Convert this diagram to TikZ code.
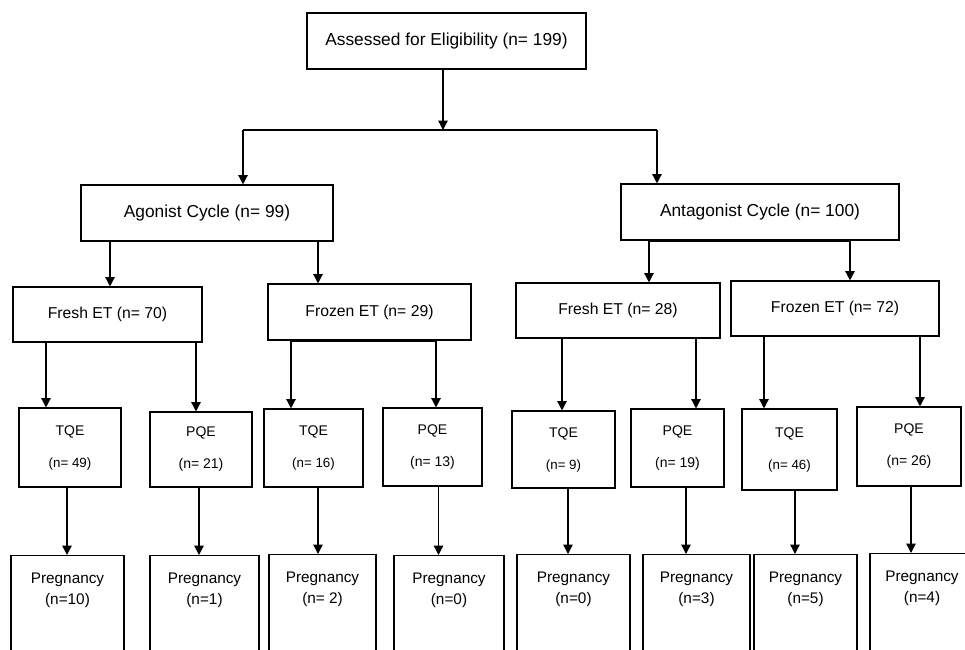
\documentclass[tikz,border=0pt]{standalone}
\usepackage{fontspec}
\setmainfont{Liberation Sans}
\usetikzlibrary{arrows.meta}
\newcommand{\pxu}{0.75pt}
\tikzset{
  box/.style={draw, line width=0.8pt, inner sep=0pt, align=center},
  cyclebox/.style={box, minimum height=56*\pxu, font=\fontsize{13}{16}\selectfont},
  etbox/.style={box, minimum height=55*\pxu, font=\fontsize{11.8}{14}\selectfont},
  qebox/.style={box, font=\fontsize{10.5}{24}\selectfont},
  pregtext/.style={anchor=north, yshift=-17.5*\pxu, inner sep=0pt, align=center, font=\fontsize{11.5}{15.75}\selectfont},
  pregbox/.style={draw, line width=0.8pt, anchor=north, minimum height=117*\pxu, label={[pregtext]north:#1}},
  arr/.style={line width=1pt, -{Triangle[width=7pt,length=7pt]}},
  bar/.style={line width=1.6pt}
}
\begin{document}
\begin{tikzpicture}[x=0.75pt, y=-0.75pt]
  \useasboundingbox (0,0) rectangle (965,650);
  \clip (0,0) rectangle (965,650);

  % Top box
  \node (top)[cyclebox, minimum width=279*\pxu] at (446.5,41) {Assessed for Eligibility (n= 199)};

  % Cycles
  \node (ago)[cyclebox, minimum width=252*\pxu] at (207,213) {Agonist Cycle (n= 99)};
  \node (anta)[cyclebox, minimum width=278*\pxu] at (760,212) {Antagonist Cycle (n= 100)};

  % Embryo transfer
  \node (f70)[etbox, minimum width=189*\pxu] at (107.5,314.5) {Fresh ET (n= 70)};
  \node (z29)[etbox, minimum width=203*\pxu, minimum height=56*\pxu] at (369.5,312) {Frozen ET (n= 29)};
  \node (f28)[etbox, minimum width=204*\pxu] at (618,310.5) {Fresh ET (n= 28)};
  \node (z72)[etbox, minimum width=208*\pxu] at (835,308.5) {Frozen ET (n= 72)};

  % Embryo quality
  \node (t49)[qebox, minimum width=102*\pxu, minimum height=79*\pxu] at (70,447.5) {TQE\\{\fontsize{10}{24}\selectfont(n= 49)}};
  \node (p21)[qebox, minimum width=102*\pxu, minimum height=75*\pxu] at (201,449.5) {PQE\\(n= 21)};
  \node (t16)[qebox, minimum width=99*\pxu, minimum height=78*\pxu] at (313.5,448) {TQE\\{\fontsize{10}{24}\selectfont(n= 16)}};
  \node (p13)[qebox, minimum width=99*\pxu, minimum height=78*\pxu] at (432.5,447) {PQE\\(n= 13)};
  \node (t9)[qebox, minimum width=103*\pxu, minimum height=77*\pxu] at (563.5,449.5) {TQE\\{\fontsize{10}{24}\selectfont(n= 9)}};
  \node (p19)[qebox, minimum width=93*\pxu, minimum height=78*\pxu] at (677.5,448) {PQE\\(n= 19)};
  \node (t46)[qebox, minimum width=95*\pxu, minimum height=81*\pxu] at (789.5,449.5) {TQE\\{\fontsize{10}{24}\selectfont(n= 46)}};
  \node (p26)[qebox, minimum width=104*\pxu, minimum height=79*\pxu] at (909,446.5) {PQE\\(n= 26)};

  % Pregnancy
  \node (g10)[pregbox={Pregnancy\\(n=10)}, minimum width=113*\pxu] at (67.5,555) {};
  \node (g1)[pregbox={Pregnancy\\(n=1)}, minimum width=109*\pxu] at (204.5,555) {};
  \node (g2)[pregbox={Pregnancy\\(n= 2)}, minimum width=107*\pxu] at (322.5,554) {};
  \node (g0a)[pregbox={Pregnancy\\(n=0)}, minimum width=110*\pxu] at (449,555) {};
  \node (g0b)[pregbox={Pregnancy\\(n=0)}, minimum width=113*\pxu] at (573.5,554) {};
  \node (g3)[pregbox={Pregnancy\\(n=3)}, minimum width=107*\pxu] at (696.5,554) {};
  \node (g5)[pregbox={Pregnancy\\(n=5)}, minimum width=103*\pxu] at (805.5,554) {};
  \node (g4)[pregbox={Pregnancy\\(n=4)}, minimum width=104*\pxu] at (922,553) {};

  % Split below the top box
  \coordinate (jm) at (443,130);
  \coordinate (jl) at (243,130);
  \coordinate (jr) at (657,130);
  \draw[arr] (top.south -| jm) -- (jm);
  \draw[line width=1pt] (jl) -- (jr);
  \draw[arr] (jl) -- (jl |- ago.north);
  \draw[arr] (jr) -- (jr |- anta.north);

  % Bars under two boxes
  \draw[bar] ([xshift=31*\pxu]f28.north |- anta.south) -- ([xshift=15*\pxu]z72.north |- anta.south);
  \draw[bar] ([xshift=-22.5*\pxu]t16.north |- z29.south) -- ([xshift=3.5*\pxu]p13.north |- z29.south);

  % Downward arrows
  \foreach \src/\dst/\dx in {ago/f70/2.5, ago/z29/-51.5, anta/f28/31, anta/z72/15,
      f70/t49/-24, f70/p21/-5, z29/t16/-22.5, z29/p13/3.5,
      f28/t9/-1.5, f28/p19/18.5, z72/t46/-25.5, z72/p26/11,
      t49/g10/-0.5, p21/g1/-5.5, t16/g2/-4.5, p13/g0a/-10.5,
      t9/g0b/-5.5, p19/g3/-10.5, t46/g5/-10.5, p26/g4/-11}
    \draw[arr] ([xshift=\dx*\pxu]\dst.north |- \src.south) -- ([xshift=\dx*\pxu]\dst.north);
\end{tikzpicture}
\end{document}
